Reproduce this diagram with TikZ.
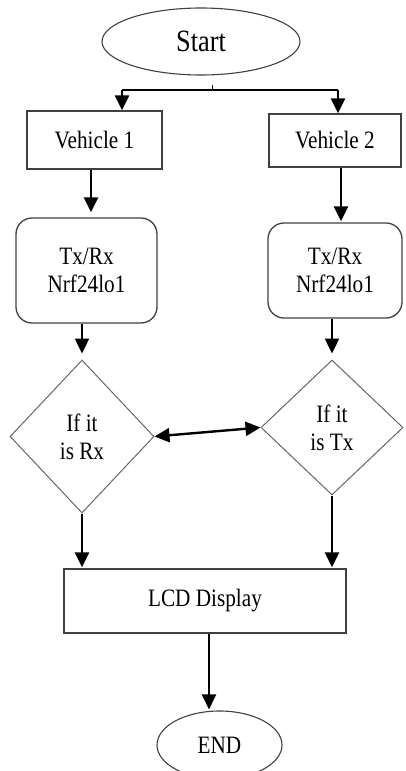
\documentclass[tikz,border=0pt]{standalone}
\usepackage{fontspec}
\setmainfont[FakeStretch=0.85]{Liberation Serif}
\usetikzlibrary{shapes.geometric,arrows.meta}

\begin{document}
\begin{tikzpicture}[x=1pt, y=-1pt,
    %Option for the arrows
    >={Triangle[width=14pt,length=15pt]}, %
    flow/.style={line width=2.4pt,->},
    link/.style={line width=2.4pt,<->},
    branch/.style={line width=2pt,-},
    terminal/.style={ellipse, draw=black!75, line width=1.1pt, inner sep=0pt},
    box/.style={rectangle, draw=black!75, line width=1.3pt, inner sep=0pt},
    radio/.style={box, rounded corners=16pt, align=center},
    decision/.style={diamond, draw=black!60, line width=1pt, inner sep=0pt, align=center},
    txt/.style={font=\fontsize{25}{28}\selectfont},
]
    \useasboundingbox (0,0) rectangle (405,771);

    % Start and the split
    \node[terminal, txt, font=\fontsize{31}{34}\selectfont, minimum width=198pt, minimum height=67pt, text depth=1pt] (start) at (201,41.5) {Start};
    \coordinate (stub) at (212,85);
    \coordinate (split) at (212,90);
    \coordinate (lt) at (122,90);
    \coordinate (rt) at (338,90);

    % Vehicles
    \node[box, txt, minimum width=135pt, minimum height=58pt] (v1) at (94.5,140) {Vehicle 1};
    \node[box, txt, minimum width=132pt, minimum height=53pt] (v2) at (335,140.5) {Vehicle 2};

    % Radio modules
    \node[radio, txt, minimum width=141pt, minimum height=105pt] (tr1) at (86.5,270.5) {Tx/Rx\\Nrf24lo1};
    \node[radio, txt, minimum width=134pt, minimum height=95pt] (tr2) at (335,270.5) {Tx/Rx\\Nrf24lo1};

    % Decisions
    \node[decision, txt, minimum width=144pt, minimum height=153pt] (d1) at (82,436.5) {If it\\is Rx};
    \node[decision, txt, minimum width=142pt, minimum height=135pt] (d2) at (332,427.5) {If it\\is Tx};

    % Output
    \node[box, txt, minimum width=282pt, minimum height=64pt] (lcd) at (205,601) {LCD Display};
    \node[terminal, txt, minimum width=125pt, minimum height=68pt] (end) at (219.5,745) {END};

    % Connectors
    \draw[line width=1pt] (stub) -- (split);
    \draw[branch] (lt) -- (rt);
    \draw[flow] (lt) -- (lt |- v1.north);
    \draw[flow] (rt) -- (rt |- v2.north);

    \draw[flow, shorten >=5pt] (v1.south -| 91,0) -- (tr1.north -| 91,0);
    \draw[flow, shorten >=1pt] (v2.south -| 341,0) -- (tr2.north -| 341,0);

    \draw[flow, shorten >=6pt] (tr1.south -| d1.north) -- (d1.north);
    \draw[flow, shorten >=6pt] (tr2.south -| d2.north) -- (d2.north);

    \draw[link] (d1.east) -- (d2.west);

    \draw[flow, shorten >=1pt] (d1.south) -- (d1.south |- lcd.north);
    \draw[flow, shorten >=1pt] (d2.south) -- (d2.south |- lcd.north);

    \draw[flow, shorten >=1pt] (lcd.south -| 209,0) -- (end.north -| 209,0);
\end{tikzpicture}
\end{document}
